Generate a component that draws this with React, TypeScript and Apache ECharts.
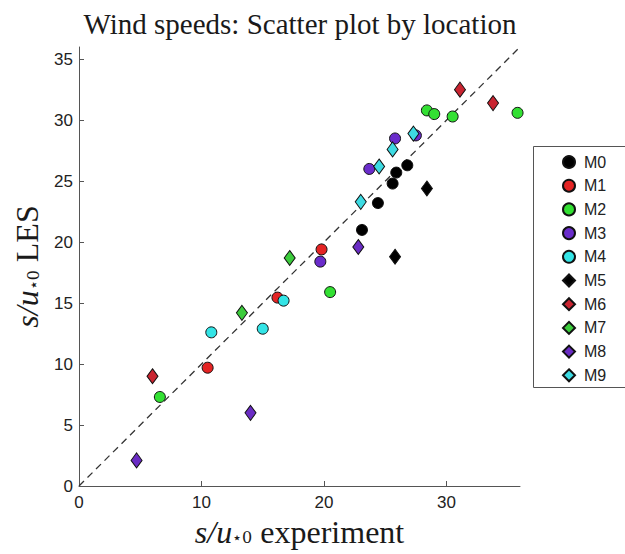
import React, { useEffect, useRef } from "react";
import * as echarts from "echarts";

const seriesNames = ["M0", "M1", "M2", "M3", "M4", "M5", "M6", "M7", "M8", "M9"];

const m0 = [[23.1, 21.0], [24.4, 23.2], [25.6, 24.8], [25.9, 25.7], [26.8, 26.3]];
const m1 = [[10.5, 9.7], [16.2, 15.45], [19.8, 19.4]];
const m2 = [[6.6, 7.3], [20.5, 15.9], [28.4, 30.8], [29.0, 30.5], [30.5, 30.3], [35.8, 30.6]];
const m3 = [[19.7, 18.4], [23.7, 26.0], [25.8, 28.5], [27.5, 28.75]];
const m4 = [[10.8, 12.6], [15.0, 12.9], [16.7, 15.2]];
const m5 = [[25.8, 18.8], [28.4, 24.4]];
const m6 = [[6.0, 9.0], [31.1, 32.5], [33.8, 31.4]];
const m7 = [[13.3, 14.2], [17.2, 18.7]];
const m8 = [[4.7, 2.1], [14.0, 6.0], [22.8, 19.6]];
const m9 = [[23.0, 23.3], [24.5, 26.2], [25.6, 27.6], [27.3, 28.9]];

const seriesData = [m0, m1, m2, m3, m4, m5, m6, m7, m8, m9];
const seriesColors = ["#000000", "#e42424", "#33e033", "#6a2ccb", "#33e4e6", "#000000", "#c92430", "#3ccc3c", "#6a2cc4", "#3ddbe3"];
const seriesSymbols = ["circle", "circle", "circle", "circle", "circle", "diamond", "diamond", "diamond", "diamond", "diamond"];

const diagonal = [[0, 0], [36, 36]];
const xTicks = [0, 10, 20, 30];
const yTicks = [0, 5, 10, 15, 20, 25, 30, 35];

export default function App() {
  const ref = useRef<HTMLDivElement>(null);
  useEffect(() => {
    document.body.style.margin = "0";
    if (!ref.current) return;
    const chart = echarts.init(ref.current, null, { renderer: "svg" });
    const mathRich = {
      it: { fontFamily: "Liberation Serif", fontStyle: "italic", fontSize: 32, color: "#1a1a1a" },
      sub: { fontFamily: "DejaVu Serif", fontSize: 16, color: "#1a1a1a", padding: [12, 0, 0, 0] },
      rm: { fontFamily: "Liberation Serif", fontSize: 32, color: "#1a1a1a" },
    };
    const scatter = seriesNames.map((name, i) => ({
      name,
      type: "scatter",
      data: seriesData[i],
      symbol: seriesSymbols[i],
      symbolSize: seriesSymbols[i] === "circle" ? 11 : [11, 15],
      itemStyle: { color: seriesColors[i], borderColor: "#111", borderWidth: 1, opacity: 1 },
      z: 3,
    }));
    chart.setOption({
      animation: false,
      title: {
        text: "Wind speeds: Scatter plot by location",
        left: 295,
        top: 4,
        textAlign: "center",
        textStyle: { fontFamily: "Liberation Serif", fontWeight: "normal", fontSize: 29, color: "#1a1a1a" },
      },
      grid: { left: 79, right: 105, top: 47, bottom: 68 },
      xAxis: {
        type: "value",
        min: 0,
        max: 36,
        interval: 10,
        name: "{it|s/u}{sub|⋆0}{rm| experiment}",
        nameLocation: "middle",
        nameGap: 19,
        nameTextStyle: { rich: mathRich, verticalAlign: "top" },
        axisLine: { lineStyle: { color: "#555", width: 1 } },
        axisTick: { inside: true, length: 5, customValues: xTicks, lineStyle: { color: "#555" } },
        axisLabel: { customValues: xTicks, fontFamily: "Liberation Sans", fontSize: 17, color: "#222", margin: 8 },
        splitLine: { show: false },
      },
      yAxis: {
        type: "value",
        min: 0,
        max: 36,
        interval: 5,
        name: "{it|s/u}{sub|⋆0}{rm| LES}",
        nameLocation: "middle",
        nameGap: 35,
        nameTextStyle: { rich: mathRich },
        axisLine: { lineStyle: { color: "#555", width: 1 } },
        axisTick: { inside: true, length: 5, customValues: yTicks, lineStyle: { color: "#555" } },
        axisLabel: { customValues: yTicks, fontFamily: "Liberation Sans", fontSize: 17, color: "#222", margin: 6 },
        splitLine: { show: false },
      },
      legend: {
        data: seriesNames,
        orient: "vertical",
        left: 557,
        top: 149,
        itemWidth: 12,
        itemHeight: 12,
        itemGap: 7.7,
        textStyle: { fontFamily: "Liberation Sans", fontSize: 16, color: "#222", padding: [0, 0, 0, 4] },
        selectedMode: false,
      },
      graphic: [
        {
          type: "rect",
          shape: { x: 533.5, y: 146.5, width: 120, height: 241 },
          style: { fill: "none", stroke: "#555", lineWidth: 1 },
          z: 0,
        },
      ],
      series: [
        {
          name: "diagonal",
          type: "line",
          data: diagonal,
          symbol: "none",
          lineStyle: { color: "#333", width: 1.3, type: [7, 5] },
          z: 2,
        },
        ...scatter,
      ],
    });
    return () => chart.dispose();
  }, []);
  return <div ref={ref} style={{ width: 625, height: 554 }} />;
}
